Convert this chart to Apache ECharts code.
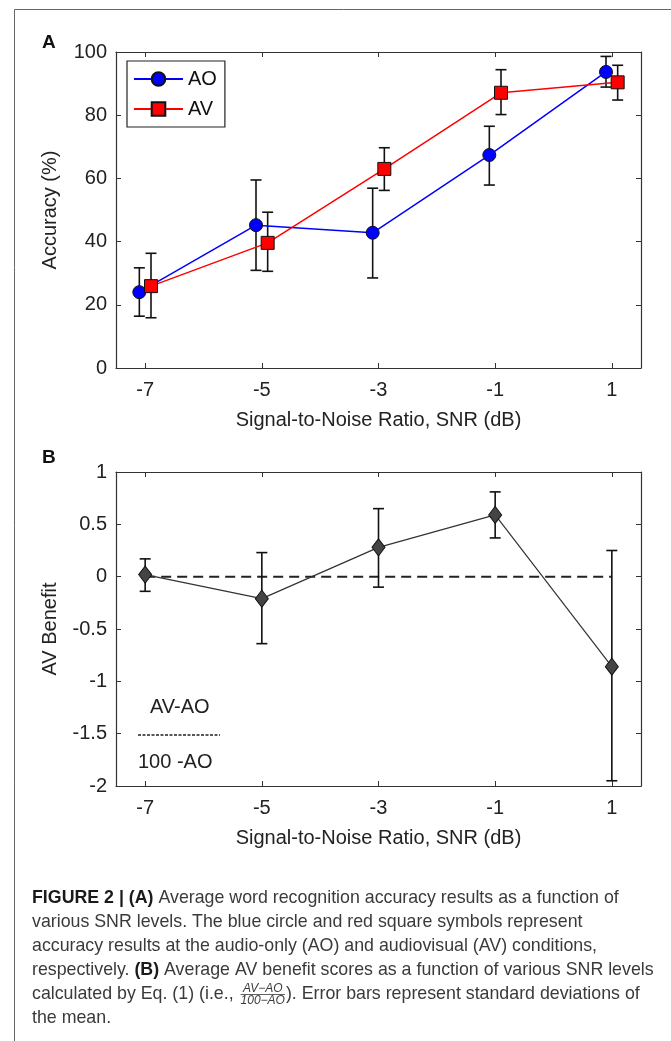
<!DOCTYPE html>
<html><head><meta charset="utf-8">
<script src="https://cdn.jsdelivr.net/npm/echarts@6/dist/echarts.min.js"></script>
<style>html,body{margin:0;padding:0;background:#fff}#c{width:671px;height:1041px}</style>
</head><body><div id="c"></div>
<script>
// ---- data ----
const snr = [-7, -5, -3, -1, 1];
const snrTicks = [-7, -5, -3, -1, 1];
const aoMean = [24.0, 45.2, 42.8, 67.4, 93.7];
const aoLow  = [16.4, 30.9, 28.5, 57.9, 88.9];
const aoHigh = [31.7, 59.5, 56.9, 76.5, 98.6];
const avMean = [25.9, 39.6, 63.0, 87.1, 90.4];
const avLow  = [15.9, 30.6, 56.2, 80.2, 84.8];
const avHigh = [36.3, 49.3, 69.7, 94.4, 95.8];
const benMean = [0.02, -0.21, 0.28, 0.59, -0.86];
const benLow  = [-0.14, -0.64, -0.10, 0.37, -1.95];
const benHigh = [0.17, 0.23, 0.65, 0.81, 0.25];
const refLevel = 0;
const seriesNames = ['AO', 'AV'];
const xTitle = 'Signal-to-Noise Ratio, SNR (dB)';
const captionLines = [
  '{b|FIGURE 2 | (A)} Average word recognition accuracy results as a function of',
  'various SNR levels. The blue circle and red square symbols represent',
  'accuracy results at the audio-only (AO) and audiovisual (AV) conditions,',
  'respectively. {b|(B)} Average AV benefit scores as a function of various SNR levels'
];
const captionL5a = 'calculated by Eq. (1) (i.e., ';
const captionNum = 'AV\u2212AO';
const captionDen = '100\u2212AO';
const captionL5b = '). Error bars represent standard deviations of';
const captionL6 = 'the mean.';

// ---- layout/style ----
const FF = "'Liberation Sans', Arial, sans-serif";
const axisColor = '#333';
const off = 0.1;

const chart = echarts.init(document.getElementById('c'), null, {renderer: 'canvas'});

function errRender(params, api) {
  const x = api.value(0), lo = api.value(1), hi = api.value(2);
  const a = api.coord([x, lo]), b = api.coord([x, hi]);
  const w = 5.5;
  const st = {stroke: '#111', lineWidth: 1.6};
  return {type: 'group', children: [
    {type: 'line', shape: {x1: a[0], y1: a[1], x2: b[0], y2: b[1]}, style: st},
    {type: 'line', shape: {x1: a[0] - w, y1: a[1], x2: a[0] + w, y2: a[1]}, style: st},
    {type: 'line', shape: {x1: b[0] - w, y1: b[1], x2: b[0] + w, y2: b[1]}, style: st}
  ]};
}

function xAxisDef(grid, pos, showLabel) {
  return {
    type: 'value', gridIndex: grid, position: pos, min: -7.5, max: 1.5,
    splitLine: {show: false},
    axisLine: {show: true, onZero: false, lineStyle: {color: axisColor, width: 1.2}},
    axisTick: {show: true, inside: true, length: 5, customValues: snrTicks, lineStyle: {color: axisColor, width: 1}},
    axisLabel: {show: showLabel, customValues: snrTicks, margin: 12, fontSize: 20, fontFamily: FF, color: '#222'},
    name: showLabel ? xTitle : '', nameLocation: 'middle', nameGap: 42,
    nameTextStyle: {fontSize: 20, fontFamily: FF, color: '#222'}
  };
}
function yAxisDef(grid, pos, showLabel, min, max, interval, name) {
  return {
    type: 'value', gridIndex: grid, position: pos, min: min, max: max, interval: interval,
    splitLine: {show: false},
    axisLine: {show: true, onZero: false, lineStyle: {color: axisColor, width: 1.2}},
    axisTick: {show: true, inside: true, length: 5, lineStyle: {color: axisColor, width: 1}},
    axisLabel: {show: showLabel, margin: 9, fontSize: 20, fontFamily: FF, color: '#222'},
    name: showLabel ? name : '', nameLocation: 'middle', nameGap: 56,
    nameTextStyle: {fontSize: 20, fontFamily: FF, color: '#222'}
  };
}

// caption layout via text measurement
const cv = document.createElement('canvas').getContext('2d');
const capSize = 17.8;
const capFont = capSize + "px 'Liberation Sans'";
const fracFont = "italic 12px 'Liberation Sans'";
cv.font = capFont;
const w5a = cv.measureText(captionL5a).width;
cv.font = fracFont;
const wFrac = Math.max(cv.measureText(captionNum).width, cv.measureText(captionDen).width);
const capX = 32, capY0 = 898, capLH = 24;
const capColor = '#3a3a3a';

const graphics = [
  {type: 'rect', shape: {x: 14.5, y: 9.5, width: 900, height: 1300}, style: {fill: 'none', stroke: '#666', lineWidth: 1}, silent: true},
  {type: 'text', style: {x: 42, y: 43, text: 'A', font: "bold 19px 'Liberation Sans'", fill: '#111', verticalAlign: 'middle'}},
  {type: 'text', style: {x: 42, y: 458, text: 'B', font: "bold 19px 'Liberation Sans'", fill: '#111', verticalAlign: 'middle'}},
  {type: 'text', style: {x: 150, y: 707, text: 'AV-AO', font: "20px 'Liberation Sans'", fill: '#222', verticalAlign: 'middle'}},
  {type: 'line', shape: {x1: 138, y1: 735, x2: 220, y2: 735}, style: {stroke: '#222', lineWidth: 1.5, lineDash: [3, 1.5]}},
  {type: 'text', style: {x: 138, y: 762, text: '100 -AO', font: "20px 'Liberation Sans'", fill: '#222', verticalAlign: 'middle'}}
];
captionLines.forEach((t, i) => {
  graphics.push({type: 'text', style: {x: capX, y: capY0 + i * capLH, text: t, font: capFont, fill: capColor, verticalAlign: 'middle',
    rich: {b: {fontWeight: 'bold', fontSize: capSize, fontFamily: 'Liberation Sans', fill: '#1a1a1a'}}}});
});
const y5 = capY0 + 4 * capLH;
const fx = capX + w5a + 2;
graphics.push({type: 'text', style: {x: capX, y: y5, text: captionL5a, font: capFont, fill: capColor, verticalAlign: 'middle'}});
graphics.push({type: 'text', style: {x: fx + wFrac / 2, y: y5 - 5.5, text: captionNum, font: fracFont, fill: capColor, align: 'center', verticalAlign: 'middle'}});
graphics.push({type: 'line', shape: {x1: fx, y1: y5 + 0.5, x2: fx + wFrac, y2: y5 + 0.5}, style: {stroke: capColor, lineWidth: 0.8}});
graphics.push({type: 'text', style: {x: fx + wFrac / 2, y: y5 + 7, text: captionDen, font: fracFont, fill: capColor, align: 'center', verticalAlign: 'middle'}});
graphics.push({type: 'text', style: {x: fx + wFrac + 1, y: y5, text: captionL5b, font: capFont, fill: capColor, verticalAlign: 'middle'}});
graphics.push({type: 'text', style: {x: capX, y: capY0 + 5 * capLH, text: captionL6, font: capFont, fill: capColor, verticalAlign: 'middle'}});

const option = {
  animation: false,
  backgroundColor: '#fff',
  grid: [
    {left: 116, top: 52, width: 525, height: 316},
    {left: 116, top: 472, width: 525, height: 314}
  ],
  xAxis: [xAxisDef(0, 'bottom', true), xAxisDef(0, 'top', false), xAxisDef(1, 'bottom', true), xAxisDef(1, 'top', false)],
  yAxis: [
    yAxisDef(0, 'left', true, 0, 100, 20, 'Accuracy (%)'),
    yAxisDef(0, 'right', false, 0, 100, 20, ''),
    yAxisDef(1, 'left', true, -2, 1, 0.5, 'AV Benefit'),
    yAxisDef(1, 'right', false, -2, 1, 0.5, '')
  ],
  legend: {
    data: seriesNames, orient: 'vertical', left: 127, top: 61,
    padding: [8, 8, 8, 6], itemGap: 10, itemWidth: 49, itemHeight: 17,
    borderColor: '#222', borderWidth: 1.2, borderRadius: 0, selectedMode: false,
    textStyle: {fontSize: 20, fontFamily: FF, color: '#111', lineHeight: 17}
  },
  graphic: graphics,
  series: [
    {type: 'custom', xAxisIndex: 0, yAxisIndex: 0, renderItem: errRender, encode: {x: 0, y: [1, 2]}, z: 1,
      data: snr.map((x, i) => [x - off, aoLow[i], aoHigh[i]])},
    {type: 'custom', xAxisIndex: 0, yAxisIndex: 0, renderItem: errRender, encode: {x: 0, y: [1, 2]}, z: 1,
      data: snr.map((x, i) => [x + off, avLow[i], avHigh[i]])},
    {type: 'line', name: seriesNames[0], xAxisIndex: 0, yAxisIndex: 0, z: 3,
      data: snr.map((x, i) => [x - off, aoMean[i]]),
      symbol: 'circle', symbolSize: 13,
      lineStyle: {color: '#0000ff', width: 1.5},
      itemStyle: {color: '#0000ff', borderColor: '#111', borderWidth: 1}},
    {type: 'line', name: seriesNames[1], xAxisIndex: 0, yAxisIndex: 0, z: 3,
      data: snr.map((x, i) => [x + off, avMean[i]]),
      symbol: 'rect', symbolSize: 13,
      lineStyle: {color: '#ff0000', width: 1.5},
      itemStyle: {color: '#ff0000', borderColor: '#111', borderWidth: 1}},
    {type: 'line', xAxisIndex: 2, yAxisIndex: 2, z: 1, symbol: 'none',
      data: [[snr[0], refLevel], [snr[snr.length - 1], refLevel]],
      lineStyle: {color: '#222', width: 2, type: [10, 6]}},
    {type: 'custom', xAxisIndex: 2, yAxisIndex: 2, renderItem: errRender, encode: {x: 0, y: [1, 2]}, z: 2,
      data: snr.map((x, i) => [x, benLow[i], benHigh[i]])},
    {type: 'line', xAxisIndex: 2, yAxisIndex: 2, z: 3,
      data: snr.map((x, i) => [x, benMean[i]]),
      symbol: 'diamond', symbolSize: [13, 17],
      lineStyle: {color: '#333', width: 1.2},
      itemStyle: {color: '#444', borderColor: '#111', borderWidth: 1}}
  ]
};
chart.setOption(option);
</script>
</body></html>
